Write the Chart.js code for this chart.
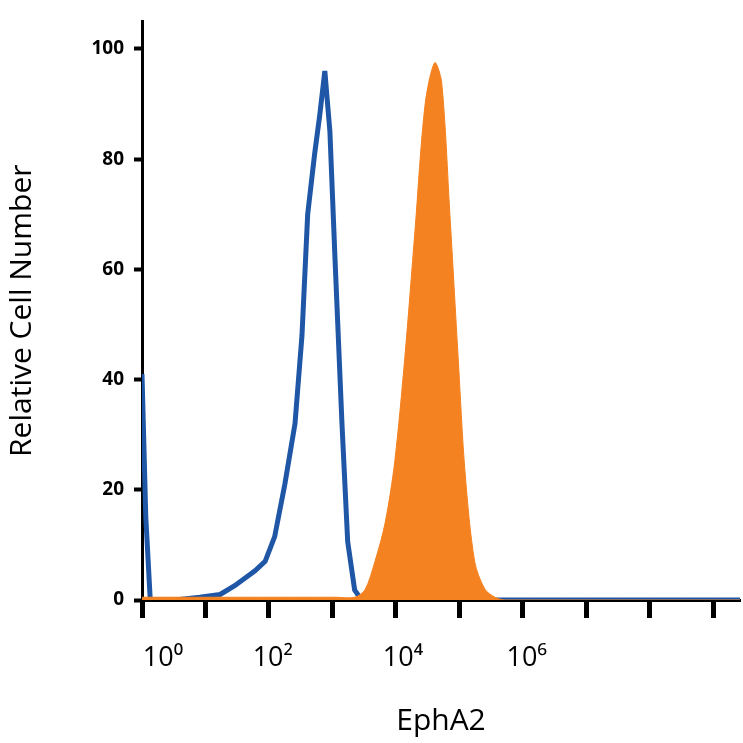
<!DOCTYPE html><html><head><style>body{margin:0;background:#fff}#w{width:743px;height:743px}</style>
<script src="https://cdn.jsdelivr.net/npm/chart.js@4"></script></head><body><div id="w"><canvas id="c"></canvas></div><script>
const blueX=[0,0.06,0.13,0.52,0.91,1.23,1.46,1.78,1.94,2.09,2.25,2.41,2.52,2.61,2.72,2.80,2.88,2.96,3.04,3.15,3.24,3.35,3.46,9.42];
const blueY=[41,15,0,0,0.5,1,2.6,5.3,7,11.5,21,32,48,70,81,88,96,85,62,32,10.6,1.8,0,0];
const orangeX=[0,3.04,3.35,3.51,3.67,3.83,3.98,4.14,4.30,4.46,4.61,4.72,4.85,4.98,5.09,5.24,5.40,5.56,5.72,9.42];
const orangeY=[0.5,0.5,0.5,1.8,7,14,25,44,67,90,97.5,94,70,44,23,7,2,0.5,0,0];
const yTicks=[0,20,40,60,80,100];
const majorTicks=[0,1,2,3,4,5,6,7,8,9];
const labelPos=[0.33,2.06,4.11,6.06];
const labelText=['10⁰','10²','10⁴','10⁶'];
const pts=(xs,ys)=>xs.map((x,i)=>({x,y:ys[i]}));
new Chart(document.getElementById('c'),{type:'scatter',data:{datasets:[
{data:pts(orangeX,orangeY),showLine:true,fill:'origin',backgroundColor:'#f58220',borderColor:'#f58220',borderWidth:1,pointRadius:0,tension:0.3},
{data:pts(blueX,blueY),showLine:true,fill:false,borderColor:'#1f57a6',borderWidth:5,pointRadius:0,tension:0}]},
options:{responsive:true,maintainAspectRatio:false,animation:false,layout:{padding:{top:-10,right:3,left:0,bottom:0}},
plugins:{legend:{display:false},tooltip:{enabled:false}},
scales:{
x:{type:'linear',position:'bottom',min:0,max:9.42,afterBuildTicks:s=>{s.ticks=majorTicks.map(v=>({value:v}))},
 ticks:{display:false},grid:{drawOnChartArea:false,tickLength:18,tickWidth:5,color:'#000'},border:{color:'#000',width:3},afterFit:s=>{s.height=22}},
x2:{type:'linear',position:'bottom',min:0,max:9.42,afterBuildTicks:s=>{s.ticks=labelPos.map(v=>({value:v}))},
 ticks:{callback:(v,i)=>labelText[i],font:{family:'Open Sans',size:27},color:'#000',padding:12,maxRotation:0,autoSkip:false},
 grid:{display:false},border:{display:false},
 title:{display:true,text:'EphA2',font:{family:'Open Sans',size:30},color:'#000',padding:{top:14}},afterFit:s=>{s.height=121}},
y:{min:0,max:105,afterBuildTicks:s=>{s.ticks=yTicks.map(v=>({value:v}))},
 ticks:{font:{family:'Open Sans',size:19,weight:'bold'},color:'#000',padding:10},
 grid:{drawOnChartArea:false,tickLength:8,tickWidth:4,color:'#000'},border:{color:'#000',width:3},
 title:{display:true,text:'Relative Cell Number',font:{family:'Open Sans',size:30},color:'#000'},afterFit:s=>{s.width=142}}}}});
</script></body></html>
